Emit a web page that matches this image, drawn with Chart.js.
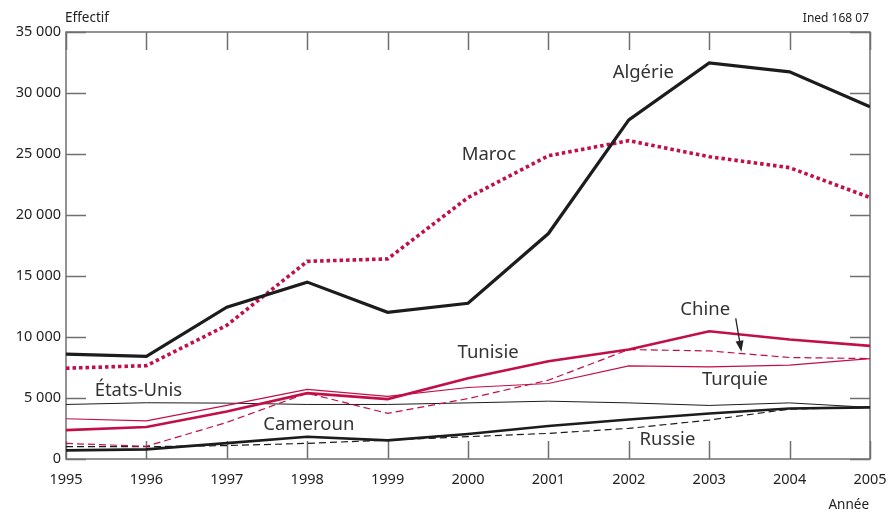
<!DOCTYPE html>
<html><head><meta charset="utf-8">
<script src="https://cdn.jsdelivr.net/npm/chart.js@4/dist/chart.umd.min.js"></script>
<style>html,body{margin:0;padding:0;background:#fff}canvas{display:block}</style>
</head><body>
<canvas id="c" width="890" height="513"></canvas>
<script>
/* ===== données ===== */
const years=[1995,1996,1997,1998,1999,2000,2001,2002,2003,2004,2005];
const algerie =[8590,8420,12450,14500,12020,12760,18480,27800,32470,31730,28870];
const maroc   =[7440,7650,10960,16200,16400,21430,24860,26090,24780,23880,21430];
const tunisie =[2370,2620,3900,5400,4910,6620,8010,8970,10470,9790,9270];
const turquie =[3300,3130,4400,5700,5130,5860,6190,7630,7550,7690,8230];
const chine   =[1280,1040,3000,5400,3740,4950,6460,8970,8860,8320,8230];
const etatsUnis=[4470,4610,4580,4470,4470,4600,4740,4600,4390,4600,4230];
const cameroun=[710,790,1300,1820,1530,2050,2700,3240,3730,4140,4230];
const russie  =[1010,1010,1100,1280,1550,1830,2100,2510,3190,4090,4230];
const yTicks=[0,5000,10000,15000,20000,25000,30000,35000];

/* étiquettes posées en coordonnées des axes */
const labels=[
  ['Algérie',2002.18,31650],['Maroc',2000.26,24940],['Tunisie',2000.25,8750],
  ['Chine',2002.95,12270],['Turquie',2003.32,6460],['États-Unis',1995.9,5560],
  ['Cameroun',1998.02,2780],['Russie',2002.48,1550]
];
const arrow={from:[2003.33,11530],to:[2003.4,8800]};

const RED='#c20f47', BLK='#1c1c1c', AXIS='#707070';
const fmt=v=>String(v).replace(/\B(?=(\d{3})+(?!\d))/g,' ');

const mk=(d,col,w,dash)=>({data:d.map((v,i)=>({x:years[i],y:v})),borderColor:col,borderWidth:w,
  borderDash:dash||[],pointRadius:0,tension:0,fill:false,borderCapStyle:'butt',borderJoinStyle:'miter'});

/* ---------- cadre & graduations ---------- */
const frame={id:'frame',beforeDatasetsDraw(c){
  const {ctx,chartArea:{left,right,top,bottom},scales:{x,y}}=c;
  ctx.save(); ctx.strokeStyle=AXIS; ctx.lineWidth=1.5;
  ctx.strokeRect(left,top,right-left,bottom-top);
  ctx.beginPath();
  years.forEach(v=>{const px=Math.round(x.getPixelForValue(v))+.5;
    ctx.moveTo(px,top);ctx.lineTo(px,top+18);ctx.moveTo(px,bottom);ctx.lineTo(px,bottom-18);});
  yTicks.forEach(v=>{const py=Math.round(y.getPixelForValue(v))+.5;
    ctx.moveTo(left,py);ctx.lineTo(left+20,py);ctx.moveTo(right,py);ctx.lineTo(right-20,py);});
  ctx.stroke(); ctx.restore();
}};

const texts={id:'texts',afterDatasetsDraw(c){
  const {ctx,chartArea:{left,right,top,bottom},scales:{x,y}}=c;
  ctx.save(); ctx.fillStyle='#333'; ctx.textAlign='center'; ctx.textBaseline='middle';
  ctx.font='18.5px "Noto Sans"';
  labels.forEach(([t,a,b])=>ctx.fillText(t,x.getPixelForValue(a),y.getPixelForValue(b)));
  // flèche Chine
  const x1=x.getPixelForValue(arrow.from[0]),y1=y.getPixelForValue(arrow.from[1]);
  const x2=x.getPixelForValue(arrow.to[0]),y2=y.getPixelForValue(arrow.to[1]);
  const ang=Math.atan2(y2-y1,x2-x1);
  ctx.strokeStyle='#222'; ctx.fillStyle='#222'; ctx.lineWidth=1.3;
  ctx.beginPath(); ctx.moveTo(x1,y1); ctx.lineTo(x2-7*Math.cos(ang),y2-7*Math.sin(ang)); ctx.stroke();
  ctx.beginPath(); ctx.moveTo(x2,y2);
  ctx.lineTo(x2-11*Math.cos(ang)+4*Math.sin(ang),y2-11*Math.sin(ang)-4*Math.cos(ang));
  ctx.lineTo(x2-11*Math.cos(ang)-4*Math.sin(ang),y2-11*Math.sin(ang)+4*Math.cos(ang));
  ctx.closePath(); ctx.fill();
  // titres
  ctx.fillStyle='#222'; ctx.font='13.5px "Noto Sans"';
  ctx.textAlign='left'; ctx.fillText('Effectif',left-1,18);
  ctx.textAlign='right'; ctx.font='12px "Noto Sans"'; ctx.fillText('Ined 168 07',right-1,19);
  ctx.font='13.5px "Noto Sans"'; ctx.fillText('Année',right-1,505);
  ctx.restore();
}};

new Chart(document.getElementById('c'),{
  type:'line',
  data:{datasets:[
    mk(algerie,BLK,3.2), mk(maroc,RED,3.6,[3.5,3]), mk(tunisie,RED,2.6),
    mk(turquie,RED,1.2), mk(chine,RED,1.2,[7,4]), mk(etatsUnis,BLK,1),
    mk(cameroun,BLK,2.6), mk(russie,BLK,1.2,[7,4])
  ]},
  options:{
    responsive:false,animation:false,
    layout:{padding:{left:0,right:20,top:32,bottom:0}},
    plugins:{legend:{display:false},tooltip:{enabled:false}},
    scales:{
      x:{type:'linear',min:1995,max:2005,
        afterFit:s=>{s.height=54;s.paddingLeft=0;s.paddingRight=0;},
        grid:{display:false,drawTicks:false},border:{display:false},
        ticks:{stepSize:1,padding:12,color:'#222',font:{family:'Noto Sans',size:14.5},callback:v=>String(v)}},
      y:{min:0,max:35000,
        afterFit:s=>{s.width=66;s.paddingTop=0;s.paddingBottom=0;},
        grid:{display:false,drawTicks:false},border:{display:false},
        ticks:{stepSize:5000,padding:5,color:'#222',font:{family:'Noto Sans',size:14.5},callback:v=>fmt(v)}}
    }
  },
  plugins:[frame,texts]
});
</script>
</body></html>
